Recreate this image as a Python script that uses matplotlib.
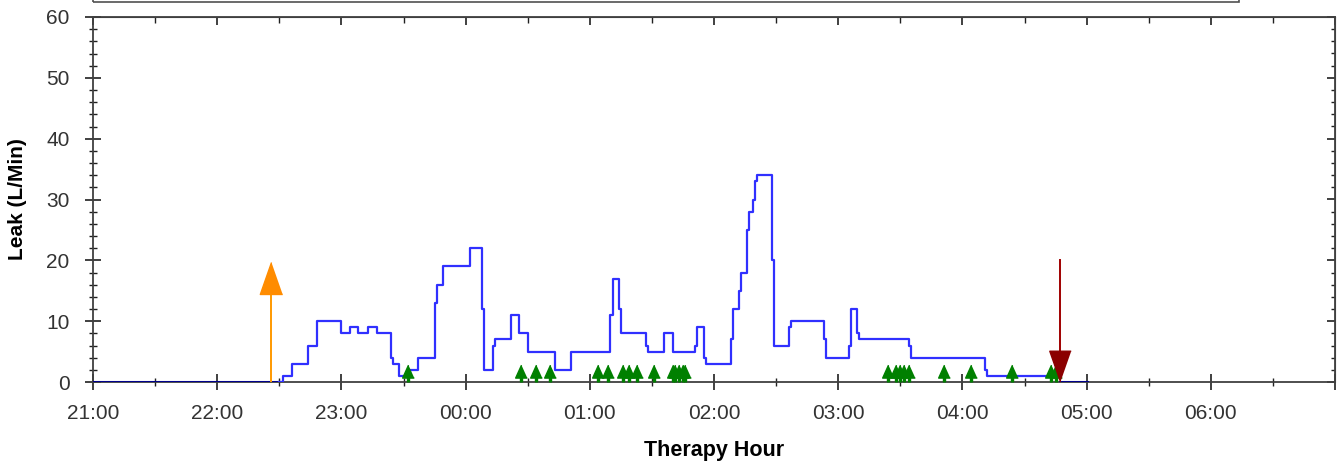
import matplotlib
matplotlib.use("Agg")
import matplotlib.pyplot as plt
import matplotlib.dates as mdates
from matplotlib.patches import Rectangle
from matplotlib.ticker import FuncFormatter
import pandas as pd

plt.rcParams['font.family'] = ['Liberation Sans', 'DejaVu Sans']

# leak trace (step values, L/Min)
leak_times = ["22:30", "22:32", "22:36", "22:44", "22:48", "23:00", "23:04", "23:08", "23:13", "23:17",
              "23:24", "23:25", "23:28", "23:33", "23:37", "23:45", "23:46", "23:49", "00:02", "00:08",
              "00:09", "00:13", "00:14", "00:22", "00:26", "00:30", "00:43", "00:51", "01:10", "01:11",
              "01:14", "01:15", "01:27", "01:28", "01:36", "01:40", "01:51", "01:52", "01:55", "01:56",
              "02:08", "02:09", "02:12", "02:13", "02:16", "02:17", "02:19", "02:20", "02:21", "02:28",
              "02:29", "02:36", "02:37", "02:53", "02:54", "03:05", "03:06", "03:09", "03:10", "03:34",
              "03:35", "04:11", "04:12", "04:47"]
leak_values = [0, 1, 3, 6, 10, 8, 9, 8, 9, 8,
               4, 3, 1, 2, 4, 13, 16, 19, 22, 12,
               2, 6, 7, 11, 8, 5, 2, 5, 11, 17,
               12, 8, 6, 5, 8, 5, 6, 9, 4, 3,
               7, 12, 15, 18, 25, 28, 30, 33, 34, 20,
               6, 9, 10, 7, 4, 6, 12, 8, 7, 6,
               4, 2, 1, 1]

# periods with no leak data (drawn on the baseline)
idle_start = ["21:00", "04:47"]
idle_end = ["22:31", "05:00"]

# events
event_times = ["23:32", "00:27", "00:34", "00:41", "01:04", "01:09", "01:16", "01:19", "01:23", "01:31",
               "01:40", "01:41", "01:43", "01:45", "01:46", "03:24", "03:28", "03:30", "03:32", "03:34",
               "03:51", "04:04", "04:24", "04:43", "04:45"]
mask_on = "22:26"
mask_off = "04:47"


def to_dt(hhmm):
    t = pd.to_datetime("2020-01-01 " + hhmm)
    if t.hour < 12:
        t = t + pd.Timedelta(days=1)
    return t


def hour_label(v, pos):
    t = mdates.num2date(v)
    if t.hour == 7:
        return ""
    return t.strftime("%H:%M")


lt = [to_dt(t) for t in leak_times]
et = [to_dt(t) for t in event_times]

fig = plt.figure(figsize=(13.42, 4.63), dpi=100)
ax = fig.add_axes([93 / 1342, 1 - 382 / 463, (1335 - 93) / 1342, (382 - 17) / 463])

for s, e in zip(idle_start, idle_end):
    ax.plot([to_dt(s), to_dt(e)], [0, 0], color="#00008b", lw=2.2, zorder=3)

ax.plot(lt, leak_values, drawstyle="steps-post", color="#3030ff", lw=1.6, zorder=4)

tree = [(0, 1), (-0.7, -0.55), (-0.12, -0.55), (-0.12, -1), (0.12, -1), (0.12, -0.55), (0.7, -0.55)]
ax.plot(et, [1.5] * len(et), ls="none", marker=tree, ms=12, color="#008000", mec="#008000", zorder=5)

# mask on arrow
t_on = to_dt(mask_on)
ax.plot([t_on, t_on], [0, 15], color="#ff9900", lw=1.4, zorder=5)
head_up = [(0, 1), (-0.7, -1), (0.7, -1)]
ax.plot([t_on], [17.1], ls="none", marker=head_up, ms=23, color="#ff8c00", mec="#ff8c00", zorder=6)

# mask off arrow
t_off = to_dt(mask_off)
ax.plot([t_off, t_off], [20, 4], color="#a00000", lw=1.4, zorder=5)
head_dn = [(0, -1), (-0.7, 1), (0.7, 1)]
ax.plot([t_off], [2.6], ls="none", marker=head_dn, ms=22, color="#8b0000", mec="#8b0000", zorder=6)

ax.set_xlim(to_dt("21:00"), to_dt("07:00"))
ax.set_ylim(0, 60)
ax.xaxis.set_major_locator(mdates.HourLocator())
ax.xaxis.set_minor_locator(mdates.MinuteLocator(byminute=30))
ax.xaxis.set_major_formatter(FuncFormatter(hour_label))
ax.set_yticks(range(0, 61, 10))
ax.set_yticks(range(0, 61, 2), minor=True)

for sp in ax.spines.values():
    sp.set_color("#404040")
    sp.set_linewidth(1.3)

ax.tick_params(which="major", direction="inout", length=12, width=1.2, color="#202020",
               labelsize=15, labelcolor="#333333")
ax.tick_params(axis="x", which="major", pad=10)
ax.tick_params(axis="y", which="major", pad=11)
ax.tick_params(which="minor", direction="inout", length=6, width=1.0, color="#202020")

# inward ticks along top and right
top = ax.secondary_xaxis("top")
top.xaxis.set_major_locator(mdates.HourLocator())
top.xaxis.set_minor_locator(mdates.MinuteLocator(byminute=30))
top.tick_params(which="major", direction="in", length=6, width=1.2, color="#202020", labeltop=False)
top.tick_params(which="minor", direction="in", length=4, width=1.0, color="#202020")
top.spines["top"].set_color("#404040")
right = ax.secondary_yaxis("right")
right.set_yticks(range(0, 61, 10))
right.set_yticks(range(0, 61, 2), minor=True)
right.tick_params(which="major", direction="in", length=6, width=1.2, color="#202020", labelright=False)
right.tick_params(which="minor", direction="in", length=3, width=1.0, color="#202020")
right.spines["right"].set_color("#404040")

ax.set_xlabel("Therapy Hour", fontsize=15.5, fontweight="bold", labelpad=12)
ax.set_ylabel("Leak (L/Min)", fontsize=15, fontweight="bold", labelpad=14)

# legend frame cut off at the top edge
fig.patches.append(Rectangle((93 / 1342, 1 - 2 / 463), (1239 - 93) / 1342, 0.1,
                             transform=fig.transFigure, fill=False, ec="#505050", lw=1.2))

fig.savefig("out.png", dpi=100)
